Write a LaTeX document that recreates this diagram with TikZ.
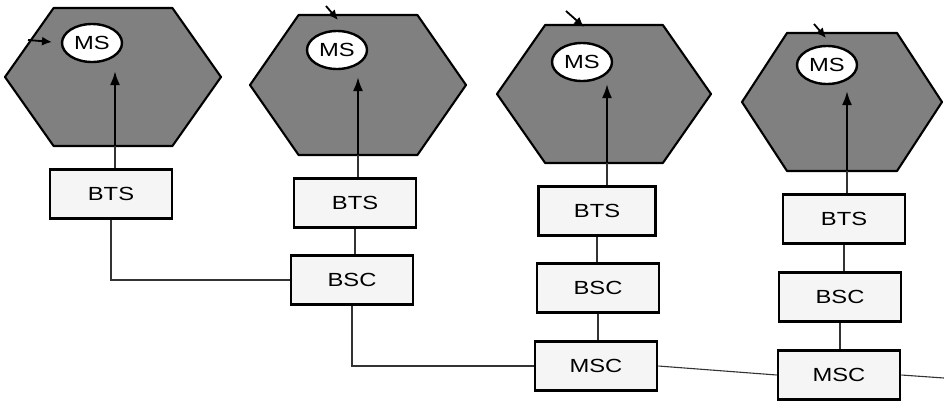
\documentclass[tikz,border=0pt]{standalone}
\usepackage{fontspec}
\newfontfamily\lblfont[FakeStretch=1.25]{Liberation Sans}
\usetikzlibrary{arrows.meta,shapes.geometric}
\newcommand\hexcell[4]{% cx, cy, half width, half height
  \draw[cell] ({#1-#3},{#2}) -- ({#1-0.55*#3},{#2-#4}) -- ({#1+0.55*#3},{#2-#4})
    -- ({#1+#3},{#2}) -- ({#1+0.55*#3},{#2+#4}) -- ({#1-0.55*#3},{#2+#4}) -- cycle;}
\begin{document}
\begin{tikzpicture}[x=1pt,y=-1pt,
  cell/.style={draw=black,line width=2.1pt,fill=black!50,line join=round},
  msnode/.style={shape=ellipse,draw=black,line width=2.4pt,fill=white,
    minimum width=60pt,minimum height=38pt,inner sep=0pt,
    font=\lblfont\fontsize{19}{22}\selectfont},
  box/.style={draw=black,line width=2.6pt,fill=black!4,minimum width=122pt,
    minimum height=49pt,inner sep=0pt,font=\lblfont\fontsize{19}{22}\selectfont},
  link/.style={line width=1.1pt,draw=black!80},
  uplink/.style={line width=2.4pt,-{Latex[length=14pt,width=10pt]}},
  sig/.style={line width=1.8pt,-{Latex[length=10pt,width=9pt]}}]
\fill[white] (0,0) rectangle (944,405);
\useasboundingbox (0,0) rectangle (944,405);

% cells
\hexcell{113}{77}{108}{69}
\hexcell{358}{85}{108}{70}
\hexcell{604}{94}{107}{69}
\hexcell{842}{102}{100}{69}

% mobile stations
\node[msnode] (ms1) at (92,43) {MS};
\node[msnode] (ms2) at (337,50) {MS};
\node[msnode] (ms3) at (582,62) {MS};
\node[msnode] (ms4) at (827,65) {MS};

% boxes
\node[box] (bts1) at (111,194) {BTS};
\node[box] (bts2) at (355,203) {BTS};
\node[box,minimum width=117pt] (bts3) at (597,211) {BTS};
\node[box] (bts4) at (844,219) {BTS};
\node[box] (bsc2) at (352,280) {BSC};
\node[box] (bsc3) at (598,288) {BSC};
\node[box] (bsc4) at (840,297) {BSC};
\node[box] (msc3) at (596,366) {MSC};
\node[box] (msc4) at (839,375) {MSC};
\coordinate (endpt) at (944,378);

% radio links BTS -> MS
\coordinate (a1b) at (115,146); \coordinate (a1t) at (115,71);
\coordinate (a2b) at (358,155); \coordinate (a2t) at (358,77);
\coordinate (a3b) at (607,163); \coordinate (a3t) at (607,84);
\coordinate (a4b) at (847,171); \coordinate (a4t) at (847,91);
\draw[link] (a1b) -- (a1b |- bts1.north);
\draw[link] (a2b) -- (a2b |- bts2.north);
\draw[link] (a3b) -- (a3b |- bts3.north);
\draw[link] (a4b) -- (a4b |- bts4.north);
\draw[uplink] (a1b) -- (a1t);
\draw[uplink] (a2b) -- (a2t);
\draw[uplink] (a3b) -- (a3t);
\draw[uplink] (a4b) -- (a4t);

% small signal arrows at the cell edges
\coordinate (s1a) at (28,40); \coordinate (s1b) at (52,42);
\coordinate (s2a) at (326,6); \coordinate (s2b) at (338,20);
\coordinate (s3a) at (566,11); \coordinate (s3b) at (584,27);
\coordinate (s4a) at (814,24); \coordinate (s4b) at (826,38);
\draw[sig] (s1a) -- (s1b);
\draw[sig] (s2a) -- (s2b);
\draw[sig] (s3a) -- (s3b);
\draw[sig] (s4a) -- (s4b);

% wired links
\draw[link] (bts1.south) |- (bsc2.west);
\draw[link] (bts2.south) -- (bts2.south |- bsc2.north);
\draw[link] (bsc2.south) |- (msc3.west);
\draw[link] (bts3.south) -- (bts3.south |- bsc3.north);
\draw[link] (bsc3.south) -- (bsc3.south |- msc3.north);
\draw[link] (bts4.south) -- (bts4.south |- bsc4.north);
\draw[link] (bsc4.south) -- (bsc4.south |- msc4.north);
\draw[link] (msc3.east) -- (msc4.west);
\draw[link] (msc4.east) -- (endpt);
\end{tikzpicture}
\end{document}
